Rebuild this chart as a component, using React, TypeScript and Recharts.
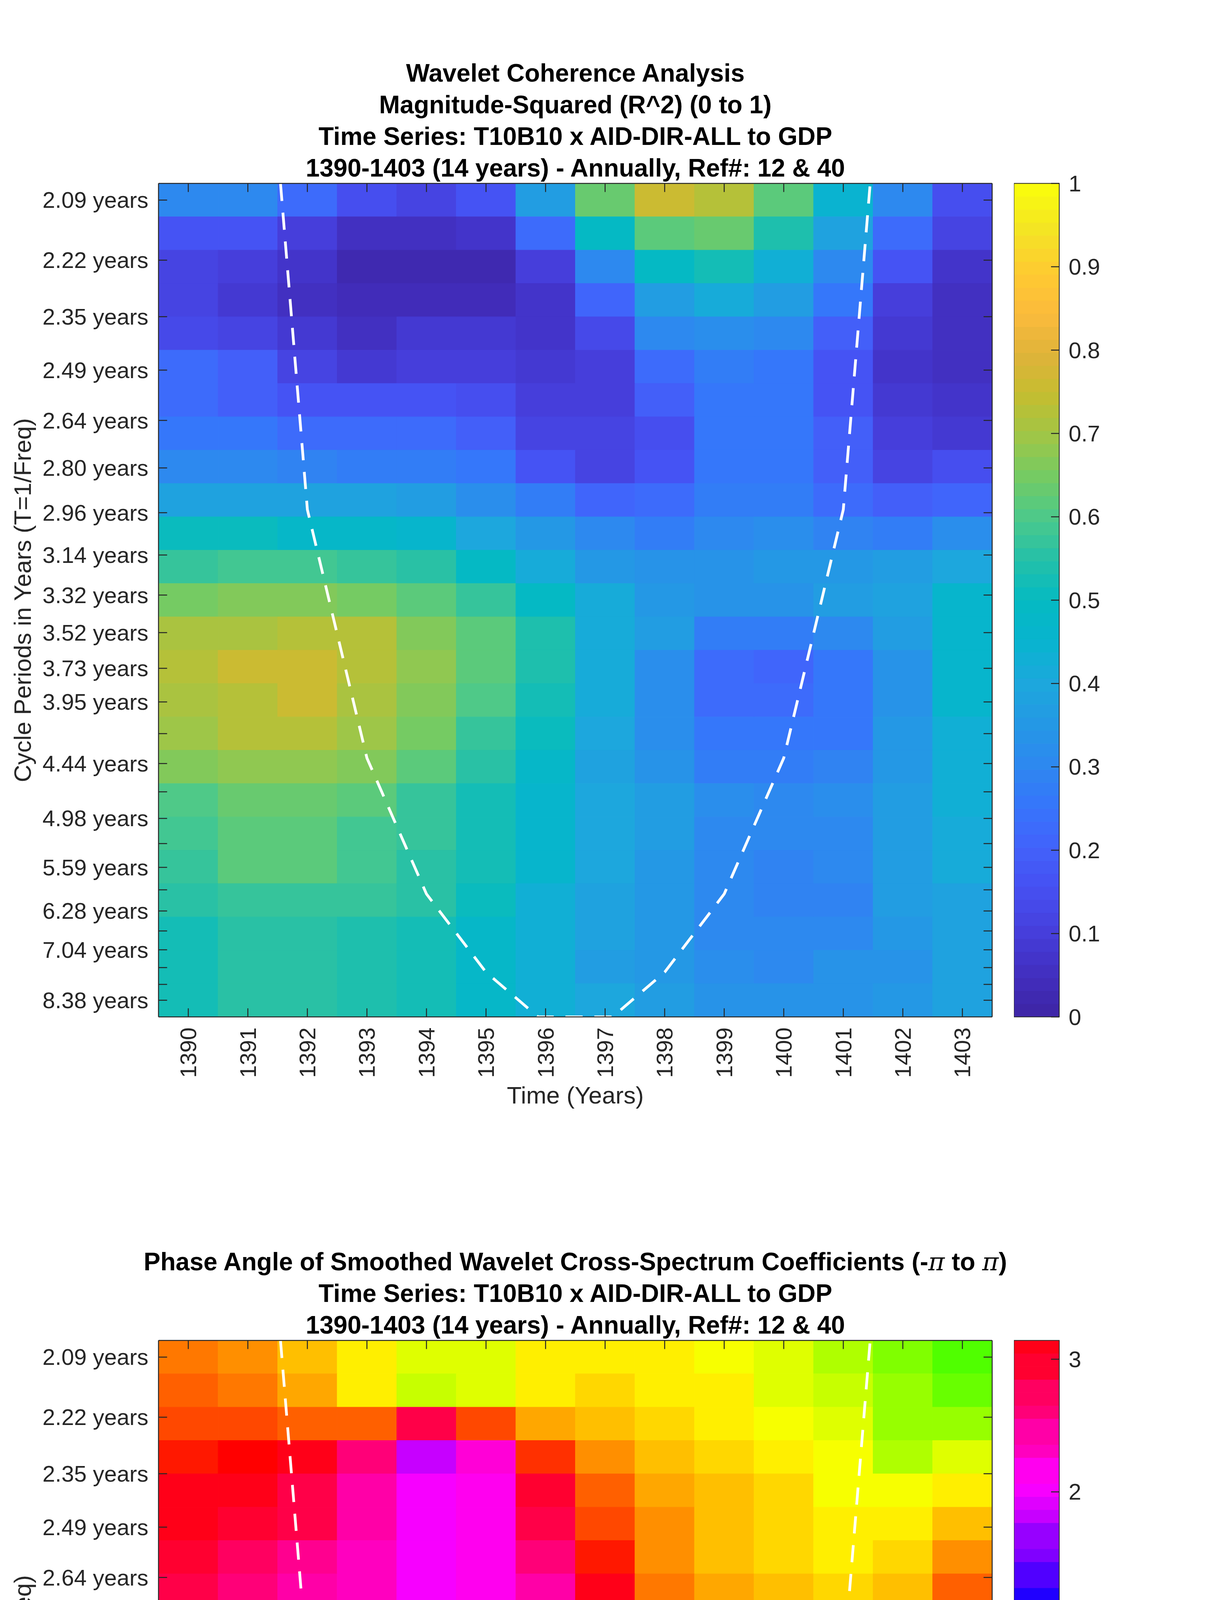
import React from "react"
import { ComposedChart, XAxis, YAxis, ReferenceArea, Line } from "recharts"

// ---- data ----
const YEARS = [1390, 1391, 1392, 1393, 1394, 1395, 1396, 1397, 1398, 1399, 1400, 1401, 1402, 1403]

// scale periods (rows, top to bottom) and the labels that are printed next to them
const PERIODS = [
  2.094, 2.219, 2.351, 2.491, 2.639, 2.796, 2.962, 3.138, 3.325, 3.522, 3.732, 3.954, 4.189,
  4.438, 4.702, 4.981, 5.277, 5.591, 5.924, 6.276, 6.649, 7.044, 7.463, 7.907, 8.377,
]
const PERIOD_LABELS = [
  "2.09", "2.22", "2.35", "2.49", "2.64", "2.80", "2.96", "3.14", "3.32", "3.52", "3.73", "3.95", "",
  "4.44", "", "4.98", "", "5.59", "", "6.28", "", "7.04", "", "", "8.38",
]

// cone of influence (period, years) at each year
const COI_YEARS = [1390, 1391, 1392, 1393, 1394, 1395, 1396, 1397, 1398, 1399, 1400, 1401, 1402, 1403]
const COI_PERIODS = [0.95, 1.51, 2.95, 4.39, 5.99, 7.58, 9.17, 9.17, 7.58, 5.99, 4.39, 2.95, 1.51, 0.95]

// magnitude-squared coherence, one row per period, one column per year
const COHERENCE = [
  [0.30, 0.30, 0.22, 0.15, 0.12, 0.16, 0.37, 0.64, 0.75, 0.72, 0.62, 0.45, 0.30, 0.15],
  [0.17, 0.16, 0.10, 0.06, 0.05, 0.07, 0.22, 0.49, 0.61, 0.63, 0.54, 0.38, 0.23, 0.11],
  [0.12, 0.10, 0.07, 0.03, 0.03, 0.03, 0.10, 0.31, 0.49, 0.53, 0.43, 0.30, 0.16, 0.07],
  [0.12, 0.09, 0.06, 0.04, 0.04, 0.04, 0.07, 0.21, 0.36, 0.41, 0.36, 0.25, 0.10, 0.05],
  [0.14, 0.11, 0.08, 0.06, 0.08, 0.08, 0.07, 0.14, 0.30, 0.32, 0.31, 0.19, 0.09, 0.05],
  [0.23, 0.19, 0.12, 0.08, 0.10, 0.10, 0.08, 0.10, 0.23, 0.28, 0.25, 0.17, 0.07, 0.05],
  [0.23, 0.20, 0.16, 0.16, 0.16, 0.15, 0.10, 0.10, 0.19, 0.25, 0.25, 0.17, 0.08, 0.07],
  [0.26, 0.25, 0.22, 0.22, 0.22, 0.19, 0.11, 0.11, 0.15, 0.26, 0.26, 0.19, 0.10, 0.08],
  [0.31, 0.31, 0.29, 0.27, 0.27, 0.25, 0.17, 0.12, 0.17, 0.25, 0.25, 0.19, 0.11, 0.15],
  [0.39, 0.39, 0.38, 0.38, 0.37, 0.32, 0.27, 0.21, 0.23, 0.27, 0.27, 0.23, 0.20, 0.21],
  [0.50, 0.50, 0.48, 0.48, 0.46, 0.40, 0.35, 0.30, 0.27, 0.30, 0.32, 0.29, 0.27, 0.32],
  [0.57, 0.59, 0.59, 0.57, 0.55, 0.49, 0.42, 0.35, 0.33, 0.33, 0.35, 0.35, 0.37, 0.40],
  [0.65, 0.67, 0.67, 0.65, 0.61, 0.57, 0.49, 0.41, 0.35, 0.33, 0.33, 0.36, 0.39, 0.46],
  [0.71, 0.71, 0.72, 0.72, 0.67, 0.61, 0.54, 0.41, 0.36, 0.27, 0.27, 0.30, 0.36, 0.46],
  [0.72, 0.75, 0.75, 0.73, 0.68, 0.61, 0.54, 0.41, 0.32, 0.22, 0.21, 0.25, 0.33, 0.46],
  [0.71, 0.73, 0.75, 0.71, 0.67, 0.60, 0.52, 0.41, 0.32, 0.23, 0.22, 0.26, 0.33, 0.46],
  [0.70, 0.72, 0.72, 0.70, 0.65, 0.57, 0.50, 0.40, 0.32, 0.25, 0.25, 0.26, 0.35, 0.43],
  [0.66, 0.68, 0.68, 0.66, 0.61, 0.56, 0.47, 0.38, 0.33, 0.28, 0.28, 0.29, 0.35, 0.43],
  [0.60, 0.63, 0.63, 0.61, 0.57, 0.53, 0.46, 0.40, 0.36, 0.32, 0.31, 0.32, 0.36, 0.43],
  [0.59, 0.62, 0.62, 0.59, 0.57, 0.52, 0.46, 0.40, 0.36, 0.31, 0.30, 0.31, 0.36, 0.41],
  [0.57, 0.61, 0.61, 0.58, 0.56, 0.52, 0.46, 0.40, 0.35, 0.30, 0.29, 0.30, 0.36, 0.41],
  [0.56, 0.57, 0.57, 0.57, 0.55, 0.50, 0.43, 0.38, 0.35, 0.30, 0.29, 0.29, 0.36, 0.39],
  [0.53, 0.55, 0.55, 0.54, 0.52, 0.48, 0.43, 0.38, 0.35, 0.31, 0.30, 0.31, 0.35, 0.39],
  [0.52, 0.55, 0.55, 0.54, 0.52, 0.48, 0.43, 0.37, 0.35, 0.32, 0.31, 0.33, 0.33, 0.39],
  [0.52, 0.55, 0.55, 0.54, 0.52, 0.48, 0.43, 0.40, 0.36, 0.33, 0.33, 0.33, 0.35, 0.38],
]

// phase angle (radians), same layout
const PHASE = [
  [-2.64, -2.55, -2.36, -2.16, -1.97, -1.94, -2.17, -2.17, -2.17, -2.06, -1.97, -1.75, -1.57, -1.36],
  [-2.75, -2.62, -2.45, -2.17, -1.83, -1.94, -2.17, -2.25, -2.17, -2.17, -1.97, -1.83, -1.68, -1.44],
  [-2.82, -2.82, -2.75, -2.75, 2.82, -2.88, -2.45, -2.36, -2.28, -2.17, -2.06, -1.94, -1.71, -1.64],
  [-3.01, -3.13, 3.07, 2.62, 1.90, 2.29, -2.98, -2.55, -2.39, -2.28, -2.17, -2.06, -1.80, -1.97],
  [3.07, 3.01, 2.88, 2.42, 2.05, 2.15, 2.95, -2.75, -2.45, -2.39, -2.28, -2.06, -2.06, -2.17],
  [3.01, 2.95, 2.82, 2.42, 2.09, 2.15, 2.82, -2.88, -2.55, -2.39, -2.28, -2.17, -2.17, -2.39],
  [2.95, 2.75, 2.55, 2.33, 2.09, 2.12, 2.68, -3.04, -2.55, -2.39, -2.28, -2.17, -2.28, -2.55],
  [2.82, 2.68, 2.48, 2.33, 2.09, 2.18, 2.48, 3.07, -2.62, -2.45, -2.36, -2.25, -2.36, -2.75],
  [2.68, 2.55, 2.42, 2.33, 2.22, 2.33, 2.48, 2.95, -2.88, -2.55, -2.45, -2.45, -2.58, -3.04],
  [2.55, 2.48, 2.39, 2.29, 2.29, 2.39, 2.62, 2.88, -3.04, -2.68, -2.62, -2.62, -2.82, 3.01],
  [2.55, 2.42, 2.42, 2.39, 2.39, 2.42, 2.62, 2.82, 3.07, -2.88, -2.82, -2.82, -3.01, 2.95],
  [2.55, 2.42, 2.42, 2.42, 2.42, 2.42, 2.52, 2.75, 2.88, -3.13, -3.01, 3.13, 3.01, 2.88],
  [2.55, 2.42, 2.42, 2.42, 2.42, 2.42, 2.52, 2.68, 2.82, 3.01, 3.07, 3.01, 2.88, 2.82],
  [2.42, 2.42, 2.42, 2.42, 2.42, 2.42, 2.42, 2.52, 2.62, 2.75, 2.82, 2.82, 2.68, 2.55],
  [2.42, 2.42, 2.42, 2.42, 2.29, 2.29, 2.29, 2.39, 2.42, 2.48, 2.62, 2.62, 2.48, 2.48],
  [2.42, 2.42, 2.42, 2.42, 2.33, 2.33, 2.33, 2.33, 2.33, 2.42, 2.42, 2.42, 2.42, 2.42],
  [2.42, 2.42, 2.42, 2.42, 2.42, 2.42, 2.42, 2.42, 2.42, 2.42, 2.42, 2.42, 2.42, 2.42],
  [2.42, 2.42, 2.42, 2.42, 2.42, 2.42, 2.42, 2.42, 2.42, 2.48, 2.48, 2.48, 2.42, 2.42],
  [2.48, 2.48, 2.48, 2.48, 2.48, 2.48, 2.48, 2.48, 2.55, 2.55, 2.55, 2.55, 2.48, 2.48],
  [2.48, 2.48, 2.48, 2.48, 2.48, 2.48, 2.48, 2.48, 2.48, 2.48, 2.48, 2.48, 2.48, 2.48],
  [2.42, 2.42, 2.42, 2.42, 2.48, 2.48, 2.48, 2.48, 2.48, 2.48, 2.48, 2.48, 2.48, 2.48],
  [2.42, 2.42, 2.42, 2.42, 2.42, 2.42, 2.42, 2.42, 2.42, 2.42, 2.42, 2.42, 2.42, 2.42],
  [2.42, 2.42, 2.42, 2.42, 2.42, 2.42, 2.42, 2.30, 2.30, 2.30, 2.30, 2.42, 2.42, 2.42],
  [2.42, 2.42, 2.42, 2.42, 2.42, 2.42, 2.30, 2.30, 2.30, 2.30, 2.30, 2.30, 2.42, 2.42],
  [2.48, 2.48, 2.39, 2.39, 2.39, 2.39, 2.39, 2.39, 2.26, 2.26, 2.39, 2.39, 2.39, 2.39],
]

const COH_TICKS = [0, 0.1, 0.2, 0.3, 0.4, 0.5, 0.6, 0.7, 0.8, 0.9, 1]
const COH_LABELS = ["0", "0.1", "0.2", "0.3", "0.4", "0.5", "0.6", "0.7", "0.8", "0.9", "1"]
const PHASE_TICKS = [-3, -2, -1, 0, 1, 2, 3]
const PHASE_LABELS = ["-3", "-2", "-1", "0", "1", "2", "3"]

const TITLE_COH = [
  "Wavelet Coherence Analysis",
  "Magnitude-Squared (R^2) (0 to 1)",
  "Time Series: T10B10 x AID-DIR-ALL to GDP",
  "1390-1403 (14 years) - Annually, Ref#: 12 & 40",
]
const TITLE_PHASE = [
  "Phase Angle of Smoothed Wavelet Cross-Spectrum Coefficients (-π to π)",
  "Time Series: T10B10 x AID-DIR-ALL to GDP",
  "1390-1403 (14 years) - Annually, Ref#: 12 & 40",
]

// parula-like colour stops, 0 -> 1
const PARULA = [
  "#3e26a8", "#4230c2", "#4640de", "#4650f2", "#4262fb", "#3676fb", "#2d88ef", "#2498e5",
  "#1ca8dc", "#08b4cf", "#05bac2", "#25c0a8", "#4cc98a", "#74cb63", "#9fc647", "#c4bd30",
  "#e0b33a", "#fcbb3c", "#fecb31", "#f4e424", "#f9fb0e",
]

// ---- layout ----
const W = 3125
const CHART_H = 3126
const PLOT_TOP = 469.5
const PLOT_LEFT = 405.7
const PLOT_W = 2133.6
const PLOT_H = 2133.8
const TOP_AXIS_H = 40
const CB_LEFT = 2595
const CB_W = 116
const CB_CHART_W = 530
const TICK = 22
const FONT = "'Liberation Sans', Arial, Helvetica, sans-serif"
const INK = "#262626"
const LEVELS = 64

const FREQS = PERIODS.map(p => 1 / p)
const F_HI = FREQS[0]
const F_LO = FREQS[FREQS.length - 1]
const STEP = (F_HI - F_LO) / (FREQS.length - 1)
const Y_DOMAIN: [number, number] = [F_LO - STEP / 2, F_HI + STEP / 2]
const X_DOMAIN: [number, number] = [YEARS[0] - 0.5, YEARS[YEARS.length - 1] + 0.5]

// coi as frequency, clamped at the bottom edge of the plot like the original
function coiPoints() {
  const lo = Y_DOMAIN[0]
  const pts: { t: number; f: number }[] = []
  COI_YEARS.forEach((t, i) => {
    const f = 1 / COI_PERIODS[i]
    if (i > 0) {
      const t0 = COI_YEARS[i - 1]
      const f0 = 1 / COI_PERIODS[i - 1]
      if ((f0 - lo) * (f - lo) < 0) pts.push({ t: t0 + ((t - t0) * (f0 - lo)) / (f0 - f), f: lo })
    }
    pts.push({ t, f: Math.max(f, lo) })
  })
  return pts
}
const COI = coiPoints()

const toHex = (r: number, g: number, b: number) =>
  "#" + [r, g, b].map(v => Math.round(Math.max(0, Math.min(255, v))).toString(16).padStart(2, "0")).join("")

function parula(v: number) {
  const idx = Math.min(LEVELS - 1, Math.max(0, Math.floor(v * LEVELS)))
  const t = (idx / (LEVELS - 1)) * (PARULA.length - 1)
  const i = Math.min(PARULA.length - 2, Math.floor(t))
  const f = t - i
  const a = PARULA[i], b = PARULA[i + 1]
  const ch = (s: string, k: number) => parseInt(s.slice(1 + 2 * k, 3 + 2 * k), 16)
  return toHex(
    ch(a, 0) + (ch(b, 0) - ch(a, 0)) * f,
    ch(a, 1) + (ch(b, 1) - ch(a, 1)) * f,
    ch(a, 2) + (ch(b, 2) - ch(a, 2)) * f,
  )
}

function hsv(v: number) {
  const idx = Math.min(LEVELS - 1, Math.max(0, Math.round(((v + Math.PI) / (2 * Math.PI)) * LEVELS)))
  const h = (idx / LEVELS) * 6
  const i = Math.floor(h)
  const f = h - i
  const rgb = [
    [1, f, 0], [1 - f, 1, 0], [0, 1, f], [0, 1 - f, 1], [f, 0, 1], [1, 0, 1 - f],
  ][i]
  return toHex(rgb[0] * 255, rgb[1] * 255, rgb[2] * 255)
}

// ---- ticks ----
const LeftTick = (p: any) => {
  const i = FREQS.findIndex(f => Math.abs(f - p.payload.value) < 1e-9)
  const label = PERIOD_LABELS[i]
  return (
    <g>
      <line x1={p.x} x2={p.x + TICK} y1={p.y} y2={p.y} stroke={INK} strokeWidth={2.5} />
      {label && (
        <text x={p.x - 26} y={p.y} dy="0.35em" textAnchor="end" fontSize={58} fontFamily={FONT} fill={INK}>
          {label} years
        </text>
      )}
    </g>
  )
}
const RightTick = (p: any) => (
  <line x1={p.x - TICK} x2={p.x} y1={p.y} y2={p.y} stroke={INK} strokeWidth={2.5} />
)
const TopTick = (p: any) => (
  <line x1={p.x} x2={p.x} y1={p.y} y2={p.y + TICK} stroke={INK} strokeWidth={2.5} />
)
const BottomTick = (p: any) => {
  const ty = p.y + 27
  return (
    <g>
      <line x1={p.x} x2={p.x} y1={p.y} y2={p.y - TICK} stroke={INK} strokeWidth={2.5} />
      <text x={p.x} y={ty} dy="0.35em" textAnchor="end" transform={`rotate(-90 ${p.x} ${ty})`}
        fontSize={58} fontFamily={FONT} fill={INK}>
        {p.payload.value}
      </text>
    </g>
  )
}

function titleLine(s: string) {
  const parts = s.split("π")
  return parts.flatMap((part, i) =>
    i < parts.length - 1
      ? [<tspan key={`a${i}`}>{part}</tspan>,
         <tspan key={`p${i}`} fontFamily="'DejaVu Serif', 'Liberation Serif', serif" fontStyle="italic" fontWeight="normal">π</tspan>]
      : [<tspan key={`a${i}`}>{part}</tspan>],
  )
}

interface PanelProps {
  top: number
  titles: string[]
  grid: number[][]
  color: (v: number) => string
  cbDomain: [number, number]
  cbTicks: number[]
  cbLabels: string[]
}

function Panel({ top, titles, grid, color, cbDomain, cbTicks, cbLabels }: PanelProps) {
  const axisLine = { stroke: INK, strokeWidth: 2.5 }
  const cx = PLOT_LEFT + PLOT_W / 2
  const cy = PLOT_TOP + PLOT_H / 2
  const [lo, hi] = cbDomain
  const band = (hi - lo) / LEVELS
  const bands = Array.from({ length: LEVELS }, (_, i) => lo + band * i)

  const CbTick = (p: any) => {
    const i = cbTicks.findIndex(v => Math.abs(v - p.payload.value) < 1e-9)
    return (
      <g>
        <line x1={p.x - 21} x2={p.x} y1={p.y} y2={p.y} stroke={INK} strokeWidth={2.5} />
        <text x={p.x + 24} y={p.y} dy="0.35em" textAnchor="start" fontSize={58} fontFamily={FONT} fill={INK}>
          {cbLabels[i]}
        </text>
      </g>
    )
  }

  return (
    <div style={{ position: "absolute", left: 0, top, width: W, height: CHART_H }}>
      <ComposedChart width={W} height={CHART_H} data={COI}
        margin={{ top: PLOT_TOP - TOP_AXIS_H, right: 0, bottom: 0, left: 0 }}>
        <XAxis type="number" dataKey="t" domain={X_DOMAIN} ticks={YEARS} interval={0} allowDataOverflow
          height={CHART_H - PLOT_TOP - PLOT_H} tickSize={0} tickMargin={0} tickLine={false}
          axisLine={axisLine} tick={(p: any) => <BottomTick {...p} />} />
        <XAxis xAxisId="top" orientation="top" type="number" dataKey="t" domain={X_DOMAIN} ticks={YEARS}
          interval={0} allowDataOverflow height={TOP_AXIS_H} tickSize={0} tickMargin={0} tickLine={false}
          axisLine={axisLine} tick={(p: any) => <TopTick {...p} />} />
        <YAxis type="number" domain={Y_DOMAIN} ticks={FREQS} interval={0} allowDataOverflow width={PLOT_LEFT}
          tickSize={0} tickMargin={0} tickLine={false} axisLine={axisLine} tick={(p: any) => <LeftTick {...p} />} />
        <YAxis yAxisId="right" orientation="right" type="number" domain={Y_DOMAIN} ticks={FREQS} interval={0}
          allowDataOverflow width={W - PLOT_LEFT - PLOT_W} tickSize={0} tickMargin={0} tickLine={false}
          axisLine={axisLine} tick={(p: any) => <RightTick {...p} />} />
        {grid.flatMap((row, k) =>
          row.map((v, j) => {
            const c = color(v)
            const fc = F_HI - k * STEP
            return (
              <ReferenceArea key={`c${k}-${j}`} x1={YEARS[j] - 0.5} x2={YEARS[j] + 0.5}
                y1={fc - STEP / 2} y2={fc + STEP / 2} fill={c} fillOpacity={1} stroke={c} strokeWidth={1}
                ifOverflow="visible" />
            )
          }),
        )}
        <Line type="linear" dataKey="f" stroke="#ffffff" strokeWidth={7} strokeDasharray="44 30"
          dot={false} activeDot={false} isAnimationActive={false} />
      </ComposedChart>

      <div style={{ position: "absolute", left: CB_LEFT, top: 0, width: CB_CHART_W, height: CHART_H }}>
        <ComposedChart width={CB_CHART_W} height={CHART_H} data={[{ x: 0 }, { x: 1 }]}
          margin={{ top: PLOT_TOP, right: 0, bottom: CHART_H - PLOT_TOP - PLOT_H, left: 0 }}>
          <XAxis type="number" dataKey="x" domain={[0, 1]} hide allowDataOverflow />
          <YAxis orientation="right" type="number" domain={cbDomain} ticks={cbTicks} interval={0} allowDataOverflow
            width={CB_CHART_W - CB_W} tickSize={0} tickMargin={0} tickLine={false} axisLine={false}
            tick={(p: any) => <CbTick {...p} />} />
          {bands.map((b, i) => {
            const c = color(b + band / 2)
            return (
              <ReferenceArea key={`b${i}`} x1={0} x2={1} y1={b} y2={b + band} fill={c} fillOpacity={1}
                stroke={c} strokeWidth={1} ifOverflow="visible" />
            )
          })}
          <ReferenceArea x1={0} x2={1} y1={lo} y2={hi} fill="none" fillOpacity={0} stroke={INK} strokeWidth={2}
            ifOverflow="visible" />
        </ComposedChart>
      </div>

      <svg width={W} height={CHART_H} style={{ position: "absolute", left: 0, top: 0, pointerEvents: "none" }}>
        {titles.map((t, i) => (
          <text key={t} x={cx} y={PLOT_TOP - 40 - (titles.length - 1 - i) * 81} dy="0.35em" textAnchor="middle"
            fontSize={64} fontWeight="bold" fontFamily={FONT} fill="#000">
            {titleLine(t)}
          </text>
        ))}
        <text x={cx} y={PLOT_TOP + PLOT_H + 200} dy="0.35em" textAnchor="middle" fontSize={62}
          fontFamily={FONT} fill={INK}>
          Time (Years)
        </text>
        <text x={57} y={cy} dy="0.35em" textAnchor="middle" fontSize={62} fontFamily={FONT} fill={INK}
          transform={`rotate(-90 57 ${cy})`}>
          Cycle Periods in Years (T=1/Freq)
        </text>
      </svg>
    </div>
  )
}

export default function App() {
  return (
    <div style={{ position: "absolute", left: 0, top: 0, width: W, height: 6252, background: "#fff" }}>
      <Panel top={0} titles={TITLE_COH} grid={COHERENCE} color={parula} cbDomain={[0, 1]}
        cbTicks={COH_TICKS} cbLabels={COH_LABELS} />
      <Panel top={3431 - PLOT_TOP} titles={TITLE_PHASE} grid={PHASE} color={hsv}
        cbDomain={[-Math.PI, Math.PI]} cbTicks={PHASE_TICKS} cbLabels={PHASE_LABELS} />
    </div>
  )
}
